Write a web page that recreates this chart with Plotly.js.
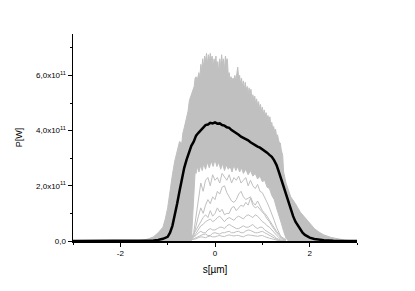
<!DOCTYPE html>
<html>
<head>
<meta charset="utf-8">
<script src="https://cdn.plot.ly/plotly-3.0.1.min.js"></script>
<style>html,body{margin:0;padding:0;background:#fff;}#chart{width:415px;height:291px;}</style>
</head>
<body>
<div id="chart"></div>
<script>
// Values in units of 1e11 W
const upperX = [-3.0,-2.0,-1.8,-1.6,-1.5,-1.4,-1.3,-1.2,-1.1,-1.05,-1.0,-0.95,-0.9,-0.85,-0.8,-0.75,-0.7,-0.68,-0.65,-0.6,-0.57,-0.54,-0.5,-0.47,-0.44,-0.42,-0.4,-0.38,-0.36,-0.34,-0.32,-0.3,-0.28,-0.26,-0.24,-0.22,-0.2,-0.18,-0.16,-0.14,-0.12,-0.1,-0.08,-0.06,-0.04,-0.02,0.0,0.02,0.04,0.06,0.08,0.1,0.12,0.14,0.16,0.18,0.2,0.22,0.24,0.26,0.28,0.3,0.32,0.34,0.36,0.38,0.4,0.42,0.44,0.46,0.48,0.5,0.52,0.54,0.56,0.58,0.6,0.62,0.64,0.66,0.68,0.7,0.72,0.74,0.76,0.78,0.8,0.82,0.84,0.86,0.88,0.9,0.92,0.94,0.96,0.98,1.0,1.02,1.04,1.06,1.08,1.1,1.12,1.14,1.16,1.18,1.2,1.22,1.24,1.26,1.28,1.3,1.32,1.35,1.38,1.4,1.43,1.45,1.5,1.55,1.6,1.7,1.8,1.9,2.0,2.1,2.2,2.3,2.45,2.6,2.75,2.9,3.0];
const upperY = [0,0,0.01,0.02,0.04,0.08,0.15,0.3,0.5,0.8,1.2,1.9,2.4,2.9,3.3,3.6,3.55,3.9,4.1,4.5,4.7,5.1,5.3,5.4,5.6,5.9,5.95,5.8,6.0,6.1,5.9,6.4,6.2,6.6,6.3,6.7,6.5,6.8,6.4,6.75,6.5,6.8,6.55,6.7,6.3,6.6,6.45,6.7,6.2,6.5,6.1,6.6,6.3,6.75,6.4,6.6,6.2,6.7,6.5,6.6,6.0,6.1,5.85,5.95,5.8,5.9,5.85,6.0,5.8,6.05,6.3,5.9,6.0,5.7,5.9,5.6,5.8,5.5,5.75,5.45,5.6,5.3,5.55,5.3,5.5,5.15,5.3,5.1,5.25,4.95,5.15,4.9,5.05,4.8,4.95,4.7,4.85,4.6,4.75,4.55,4.65,4.45,4.55,4.35,4.5,4.2,4.3,4.05,4.15,3.95,4.05,3.8,3.85,3.6,3.55,3.3,3.1,2.5,2.1,1.85,1.6,1.35,1.05,0.85,0.66,0.45,0.32,0.22,0.13,0.07,0.03,0.01,0];

// lower edge of the dense grey band (top of the white hole)
const holeX = [-0.5,-0.48,-0.46,-0.44,-0.42,-0.4,-0.37,-0.34,-0.3,-0.27,-0.24,-0.2,-0.16,-0.12,-0.08,-0.04,0.0,0.04,0.08,0.12,0.16,0.2,0.24,0.28,0.32,0.36,0.4,0.44,0.48,0.52,0.56,0.6,0.65,0.7,0.75,0.8,0.85,0.9,0.95,1.0,1.05,1.1,1.15,1.2,1.25,1.3,1.35,1.4,1.45,1.5,1.55];
const holeY = [0,0.6,1.5,2.2,2.5,2.45,2.7,2.5,2.75,2.55,2.8,2.6,2.85,2.65,2.9,2.7,2.95,2.7,2.85,2.6,2.8,2.55,2.75,2.6,2.7,2.5,2.75,2.55,2.7,2.5,2.65,2.45,2.6,2.4,2.55,2.35,2.45,2.25,2.35,2.15,2.2,1.95,1.9,1.65,1.5,1.2,0.95,0.65,0.35,0.1,0];

const shotX = [-0.6,-0.5,-0.45,-0.4,-0.35,-0.3,-0.25,-0.2,-0.15,-0.1,-0.05,0.0,0.05,0.1,0.15,0.2,0.25,0.3,0.35,0.4,0.45,0.5,0.55,0.6,0.65,0.7,0.75,0.8,0.85,0.9,0.95,1.0,1.05,1.1,1.15,1.2,1.25,1.3,1.35,1.4,1.5];
const shot1 = [0.02,0.1,0.2,0.6,0.9,1.2,1.0,1.3,1.5,1.35,1.6,1.5,1.8,1.7,1.95,2.0,1.75,1.6,1.45,1.4,1.5,1.7,1.8,1.6,1.5,1.55,1.6,1.4,1.3,1.45,1.25,1.1,1.0,0.9,0.75,0.6,0.5,0.35,0.25,0.15,0.05];
const shot2 = [0.02,0.1,0.25,0.4,0.6,0.75,0.85,0.95,0.85,1.1,0.9,1.0,1.2,1.05,1.15,0.95,1.0,1.0,1.2,1.25,1.1,1.2,1.3,1.25,1.4,1.3,1.55,1.3,1.2,1.25,1.15,1.05,0.95,0.8,0.7,0.55,0.4,0.3,0.2,0.1,0.02];
const shot3 = [0.01,0.05,0.15,0.3,0.45,0.55,0.6,0.7,0.75,0.8,0.7,0.75,0.85,0.9,0.8,0.7,0.8,0.85,0.8,0.75,0.85,0.9,0.85,0.8,0.9,0.95,0.9,0.85,0.95,0.9,0.8,0.7,0.65,0.55,0.5,0.4,0.3,0.2,0.12,0.05,0.01];
const shot4 = [0.02,0.1,0.15,0.2,0.3,0.35,0.3,0.3,0.4,0.45,0.4,0.4,0.45,0.5,0.5,0.45,0.55,0.6,0.55,0.5,0.45,0.45,0.5,0.55,0.5,0.5,0.55,0.6,0.5,0.45,0.5,0.5,0.4,0.35,0.3,0.25,0.18,0.1,0.05,0.02,0.0];
const shot5 = [0.01,0.05,0.08,0.12,0.16,0.2,0.24,0.25,0.2,0.2,0.28,0.3,0.27,0.25,0.3,0.3,0.33,0.35,0.3,0.3,0.34,0.35,0.3,0.3,0.36,0.4,0.38,0.35,0.3,0.3,0.33,0.35,0.3,0.25,0.2,0.15,0.1,0.05,0.02,0.01,0.0];
const shot6 = [0.01,0.04,0.06,0.08,0.12,0.15,0.14,0.12,0.16,0.18,0.15,0.15,0.18,0.2,0.17,0.16,0.2,0.22,0.2,0.18,0.2,0.2,0.17,0.15,0.2,0.22,0.21,0.2,0.18,0.17,0.19,0.2,0.16,0.12,0.1,0.08,0.05,0.03,0.01,0.0,0.0];
const shot7 = [0.0,0.05,0.3,0.9,1.6,2.1,1.8,2.2,2.3,2.0,2.4,2.2,2.3,2.1,2.45,2.3,2.2,2.4,2.1,2.3,2.2,2.35,2.1,2.2,2.3,2.0,2.2,2.0,1.9,2.05,1.8,1.75,1.6,1.4,1.2,1.0,0.75,0.5,0.3,0.12,0.02];

const meanX = [-3.0,-2.0,-1.6,-1.4,-1.3,-1.2,-1.1,-1.0,-0.95,-0.9,-0.85,-0.8,-0.75,-0.7,-0.65,-0.6,-0.55,-0.5,-0.45,-0.4,-0.35,-0.3,-0.25,-0.2,-0.15,-0.1,-0.05,0.0,0.05,0.1,0.15,0.2,0.25,0.3,0.35,0.4,0.45,0.5,0.55,0.6,0.65,0.7,0.75,0.8,0.85,0.9,0.95,1.0,1.05,1.1,1.15,1.2,1.25,1.3,1.35,1.4,1.45,1.5,1.55,1.6,1.65,1.7,1.75,1.8,1.85,1.9,1.95,2.0,2.1,2.2,2.3,2.5,3.0];
const meanY = [0,0,0.005,0.01,0.02,0.04,0.08,0.15,0.3,0.55,0.9,1.35,1.8,2.25,2.65,2.95,3.25,3.45,3.6,3.82,3.92,4.02,4.1,4.2,4.22,4.28,4.26,4.3,4.25,4.26,4.2,4.18,4.12,4.1,4.02,3.97,3.92,3.85,3.78,3.74,3.68,3.65,3.58,3.52,3.48,3.42,3.38,3.32,3.28,3.2,3.12,3.05,2.92,2.75,2.5,2.22,1.95,1.65,1.38,1.15,0.9,0.7,0.55,0.42,0.3,0.22,0.16,0.12,0.07,0.04,0.03,0.01,0];

const yTickVals = [0,2,4,6];
const yTickText = ['0,0','2,0x10<sup>11</sup>','4,0x10<sup>11</sup>','6,0x10<sup>11</sup>'];
const xTickVals = [-2,0,2];
const xTickText = ['-2','0','2'];

const gray = 'rgb(192,192,192)';
const traces = [
  {x: upperX, y: upperY, mode: 'lines', fill: 'tozeroy', fillcolor: gray, line: {width: 1, color: gray}},
  {x: holeX, y: holeY, mode: 'lines', fill: 'tozeroy', fillcolor: '#ffffff', line: {width: 1, color: gray}},
];
[shot7, shot1, shot2, shot3, shot4, shot5, shot6].forEach(s => {
  traces.push({x: shotX, y: s, mode: 'lines', line: {width: 1, color: gray}});
});
traces.push({x: meanX, y: meanY, mode: 'lines', line: {width: 2.5, color: '#000'}});

const font = {family: 'Liberation Sans, Arial, sans-serif', size: 8, color: '#000'};
const layout = {
  width: 415, height: 291,
  margin: {l: 73, r: 58, t: 34, b: 50},
  paper_bgcolor: '#fff', plot_bgcolor: '#fff',
  showlegend: false,
  font: font,
  xaxis: {
    range: [-3, 3], showgrid: false, zeroline: false,
    showline: true, linecolor: '#000', linewidth: 1.5, layer: 'above traces',
    ticks: 'outside', ticklen: 4, tickwidth: 1, tickcolor: '#000',
    tickvals: xTickVals, ticktext: xTickText, tickfont: font,
    minor: {ticks: 'outside', ticklen: 2, tickwidth: 1, tickcolor: '#000', dtick: 1, showgrid: false},
    title: {text: 's[µm]', font: {family: 'Liberation Sans, Arial, sans-serif', size: 10, color: '#000'}, standoff: 9}
  },
  yaxis: {
    range: [0, 7.5], showgrid: false, zeroline: false,
    showline: true, linecolor: '#000', linewidth: 1.5, layer: 'above traces',
    ticks: 'outside', ticklen: 4, tickwidth: 1, tickcolor: '#000',
    tickvals: yTickVals, ticktext: yTickText, tickfont: font,
    minor: {ticks: 'outside', ticklen: 2, tickwidth: 1, tickcolor: '#000', dtick: 1, showgrid: false},
    title: {text: 'P[W]', font: {family: 'Liberation Sans, Arial, sans-serif', size: 9, color: '#000'}, standoff: 12}
  }
};
Plotly.newPlot('chart', traces, layout, {staticPlot: true, displayModeBar: false});
</script>
</body>
</html>
